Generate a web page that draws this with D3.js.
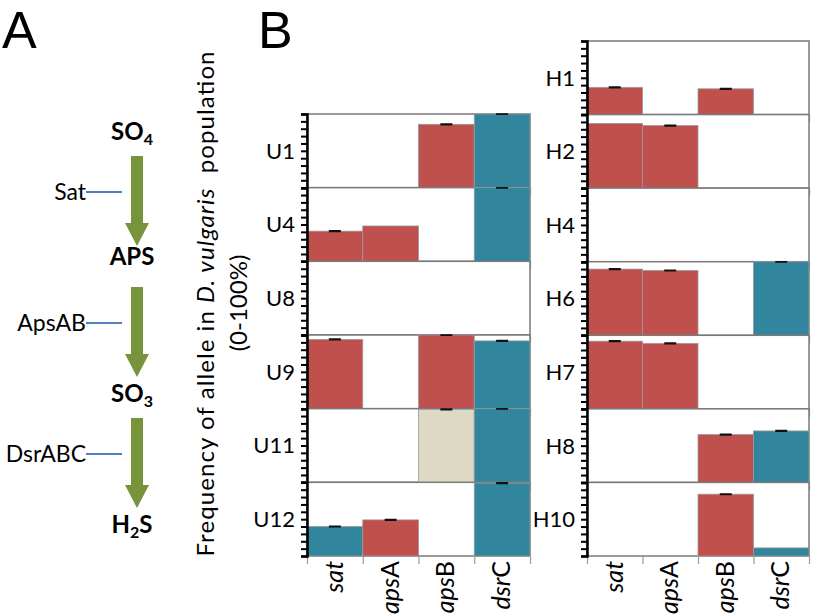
<!DOCTYPE html>
<html>
<head>
<meta charset="utf-8">
<script src="https://cdn.jsdelivr.net/npm/d3@7"></script>
<style>
body { margin:0; background:#fff; }
text { font-family: Lato, "Open Sans", sans-serif; fill:#000; }
</style>
</head>
<body>
<svg id="chart"></svg>
<script>
// genes on the x axis of every panel
var genes = ["sat", "apsA", "apsB", "dsrC"];

// populations, left column (U) and right column (H)
var uLines = ["U1", "U4", "U8", "U9", "U11", "U12"];
var hLines = ["H1", "H2", "H4", "H6", "H7", "H8", "H10"];

// allele frequency (%) per population, in gene order
var uFreq = [
    [0, 0, 86, 100],
    [41, 48, 0, 100],
    [0, 0, 0, 0],
    [94, 0, 100, 92],
    [0, 0, 99, 100],
    [40, 49, 0, 99]
];
var hFreq = [
    [37, 0, 35, 0],
    [88, 85, 0, 0],
    [0, 0, 0, 0],
    [90, 88, 0, 100],
    [92, 89, 0, 0],
    [0, 0, 65, 70],
    [0, 0, 84, 11]
];

// allele class of each bar (drives the bar colour)
var uClass = [
    ["", "", "r", "t"],
    ["r", "r", "", "t"],
    ["", "", "", ""],
    ["r", "", "r", "t"],
    ["", "", "n", "t"],
    ["t", "r", "", "t"]
];
var hClass = [
    ["r", "", "r", ""],
    ["r", "r", "", ""],
    ["", "", "", ""],
    ["r", "r", "", "t"],
    ["r", "r", "", ""],
    ["", "", "r", "t"],
    ["", "", "r", "t"]
];

// error (%) per bar
var uErr = [
    [0, 0, 0.5, 0.5],
    [0.5, 0, 0, 0.5],
    [0, 0, 0, 0],
    [0.5, 0, 0.5, 0.5],
    [0, 0, 0.5, 0.5],
    [0.5, 0.5, 0, 0.5]
];
var hErr = [
    [0.5, 0, 0.5, 0],
    [0, 0.5, 0, 0],
    [0, 0, 0, 0],
    [0.5, 0.5, 0, 0.5],
    [0.5, 0.5, 0, 0],
    [0, 0, 0.5, 0.5],
    [0, 0, 0.5, 0]
];

// pathway in panel A
var metabolites = ["SO|4", "APS", "SO|3", "H|2|S"];
var enzymes = ["Sat", "ApsAB", "DsrABC"];

var svg = d3.select("#chart").attr("width", 814).attr("height", 616);

var color = d3.scaleOrdinal()
    .domain(["r", "t", "n"])
    .range(["#C0504D", "#31859C", "#DDD9C4"]);

// ---------- panel A ----------
svg.append("text").attr("x", 2).attr("y", 48)
    .style("font-family", "'Liberation Sans', Arial, sans-serif")
    .style("font-size", "52px").text("A");
svg.append("text").attr("x", 258).attr("y", 48)
    .style("font-family", "'Liberation Sans', Arial, sans-serif")
    .style("font-size", "52px").text("B");

var metY = d3.scalePoint().domain(metabolites).range([140, 533]);
var arrowX = 137;

metabolites.forEach(function(m) {
    var parts = m.split("|");
    var t = svg.append("text")
        .attr("x", 132).attr("y", metY(m) - (m == "APS" ? 6 : 0))
        .attr("text-anchor", "middle")
        .style("font-size", "24px").style("font-weight", "bold");
    parts.forEach(function(p, i) {
        var ts = t.append("tspan").text(p);
        if (i % 2 == 1) ts.style("font-size", "16px").attr("dy", 5);
        else if (i > 0) ts.attr("dy", -5);
    });
});

enzymes.forEach(function(e, i) {
    var top = metY(metabolites[i]) + 16;
    var bot = metY(metabolites[i + 1]) - 25;
    var head = 23;
    svg.append("path")
        .attr("d", "M" + (arrowX - 6) + "," + top +
            "L" + (arrowX + 6) + "," + top +
            "L" + (arrowX + 6) + "," + (bot - head) +
            "L" + (arrowX + 12) + "," + (bot - head) +
            "L" + arrowX + "," + bot +
            "L" + (arrowX - 12) + "," + (bot - head) +
            "L" + (arrowX - 6) + "," + (bot - head) + "Z")
        .attr("fill", "#77933C");
    var ly = top + 36;
    svg.append("line")
        .attr("x1", 86).attr("x2", 122).attr("y1", ly).attr("y2", ly)
        .attr("stroke", "#4F81BD").attr("stroke-width", 2);
    svg.append("text")
        .attr("x", 86).attr("y", ly + 8)
        .attr("text-anchor", "end")
        .style("font-size", "23px").text(e);
});

// ---------- panel B ----------
var yTitle = svg.append("text")
    .attr("transform", "translate(214,304) rotate(-90)")
    .attr("text-anchor", "middle")
    .attr("textLength", 505)
    .attr("lengthAdjust", "spacing")
    .style("font-size", "24px");
yTitle.append("tspan").text("Frequency of allele in ");
yTitle.append("tspan").style("font-style", "italic").text("D. vulgaris");
yTitle.append("tspan").text("\u00a0 population");
svg.append("text")
    .attr("transform", "translate(247,303) rotate(-90)")
    .attr("text-anchor", "middle")
    .style("font-size", "24px")
    .text("(0-100%)");

var drawColumn = function(names, freq, cls, err, x0, x1, top, bottom)
{
    var rows = d3.scaleBand().domain(names).range([top, bottom]);
    var x = d3.scaleBand().domain(genes).range([x0, x1]);
    var xEdge = d3.scaleLinear().domain([0, genes.length]).range([x0, x1]);
    var h = rows.bandwidth();
    var y = d3.scaleLinear().domain([0, 100]).range([h, 0]);

    names.forEach(function(name, r) {
        var g = svg.append("g")
            .attr("transform", "translate(0," + rows(name) + ")");

        g.append("rect")
            .attr("x", x0).attr("y", 0)
            .attr("width", x1 - x0).attr("height", h)
            .attr("fill", "#fff").attr("stroke", "#7a7a7a").attr("stroke-width", 1.5);

        g.selectAll("rect.bar")
            .data(genes.filter(function(d, i) { return freq[r][i] > 0; }))
            .enter().append("rect")
            .attr("class", "bar")
            .attr("x", function(d) { return x(d); })
            .attr("width", x.bandwidth())
            .attr("y", function(d) { return y(freq[r][genes.indexOf(d)]); })
            .attr("height", function(d) { return h - y(freq[r][genes.indexOf(d)]); })
            .attr("fill", function(d) { return color(cls[r][genes.indexOf(d)]); })
            .attr("stroke", "#9a9a9a").attr("stroke-width", 0.8);

        g.selectAll("path.err")
            .data(genes.filter(function(d, i) { return err[r][i] > 0; }))
            .enter().append("path")
            .attr("class", "err")
            .attr("d", function(d) {
                var i = genes.indexOf(d);
                var cx = x(d) + x.bandwidth() / 2;
                var v = freq[r][i];
                var lo = y(v - err[r][i]), hi = y(Math.min(100, v + err[r][i]));
                return "M" + (cx - 6) + "," + hi + "H" + (cx + 6) +
                    "M" + cx + "," + hi + "V" + lo +
                    "M" + (cx - 6) + "," + lo + "H" + (cx + 6);
            })
            .attr("fill", "none").attr("stroke", "#111").attr("stroke-width", 1.4);

        // gene boundary ticks under each panel
        var xa = g.append("g")
            .attr("transform", "translate(0," + h + ")")
            .call(d3.axisBottom(xEdge).ticks(genes.length).tickSize(8).tickFormat(""));
        xa.select(".domain").remove();
        xa.selectAll("line").attr("stroke", "#9a9a9a").attr("stroke-width", 1.2);

        var ya = g.append("g")
            .attr("transform", "translate(" + x0 + ",0)")
            .call(d3.axisLeft(y).ticks(10).tickSize(6).tickSizeOuter(6).tickFormat(""));
        ya.select(".domain").attr("stroke", "#000").attr("stroke-width", 2.5);
        ya.selectAll("line").attr("stroke", "#000").attr("stroke-width", 2);

        g.append("text")
            .attr("x", x0 - 12).attr("y", h / 2)
            .attr("dy", "0.36em")
            .attr("text-anchor", "end")
            .style("font-size", "22px")
            .text(name);
    });

    // gene labels under the last panel
    genes.forEach(function(gene) {
        var it = gene.replace(/[A-Z]$/, "");
        var t = svg.append("text")
            .attr("transform", "translate(" + (x(gene) + x.bandwidth() / 2 + 8) + "," + (bottom + 5) + ") rotate(-90)")
            .attr("text-anchor", "end")
            .style("font-size", "25px");
        t.append("tspan").style("font-style", "italic").text(it);
        if (it.length < gene.length) t.append("tspan").text(gene.slice(it.length));
    });
}

drawColumn(uLines, uFreq, uClass, uErr, 307, 530, 114, 556);
drawColumn(hLines, hFreq, hClass, hErr, 587, 809, 41, 556);
</script>
</body>
</html>
